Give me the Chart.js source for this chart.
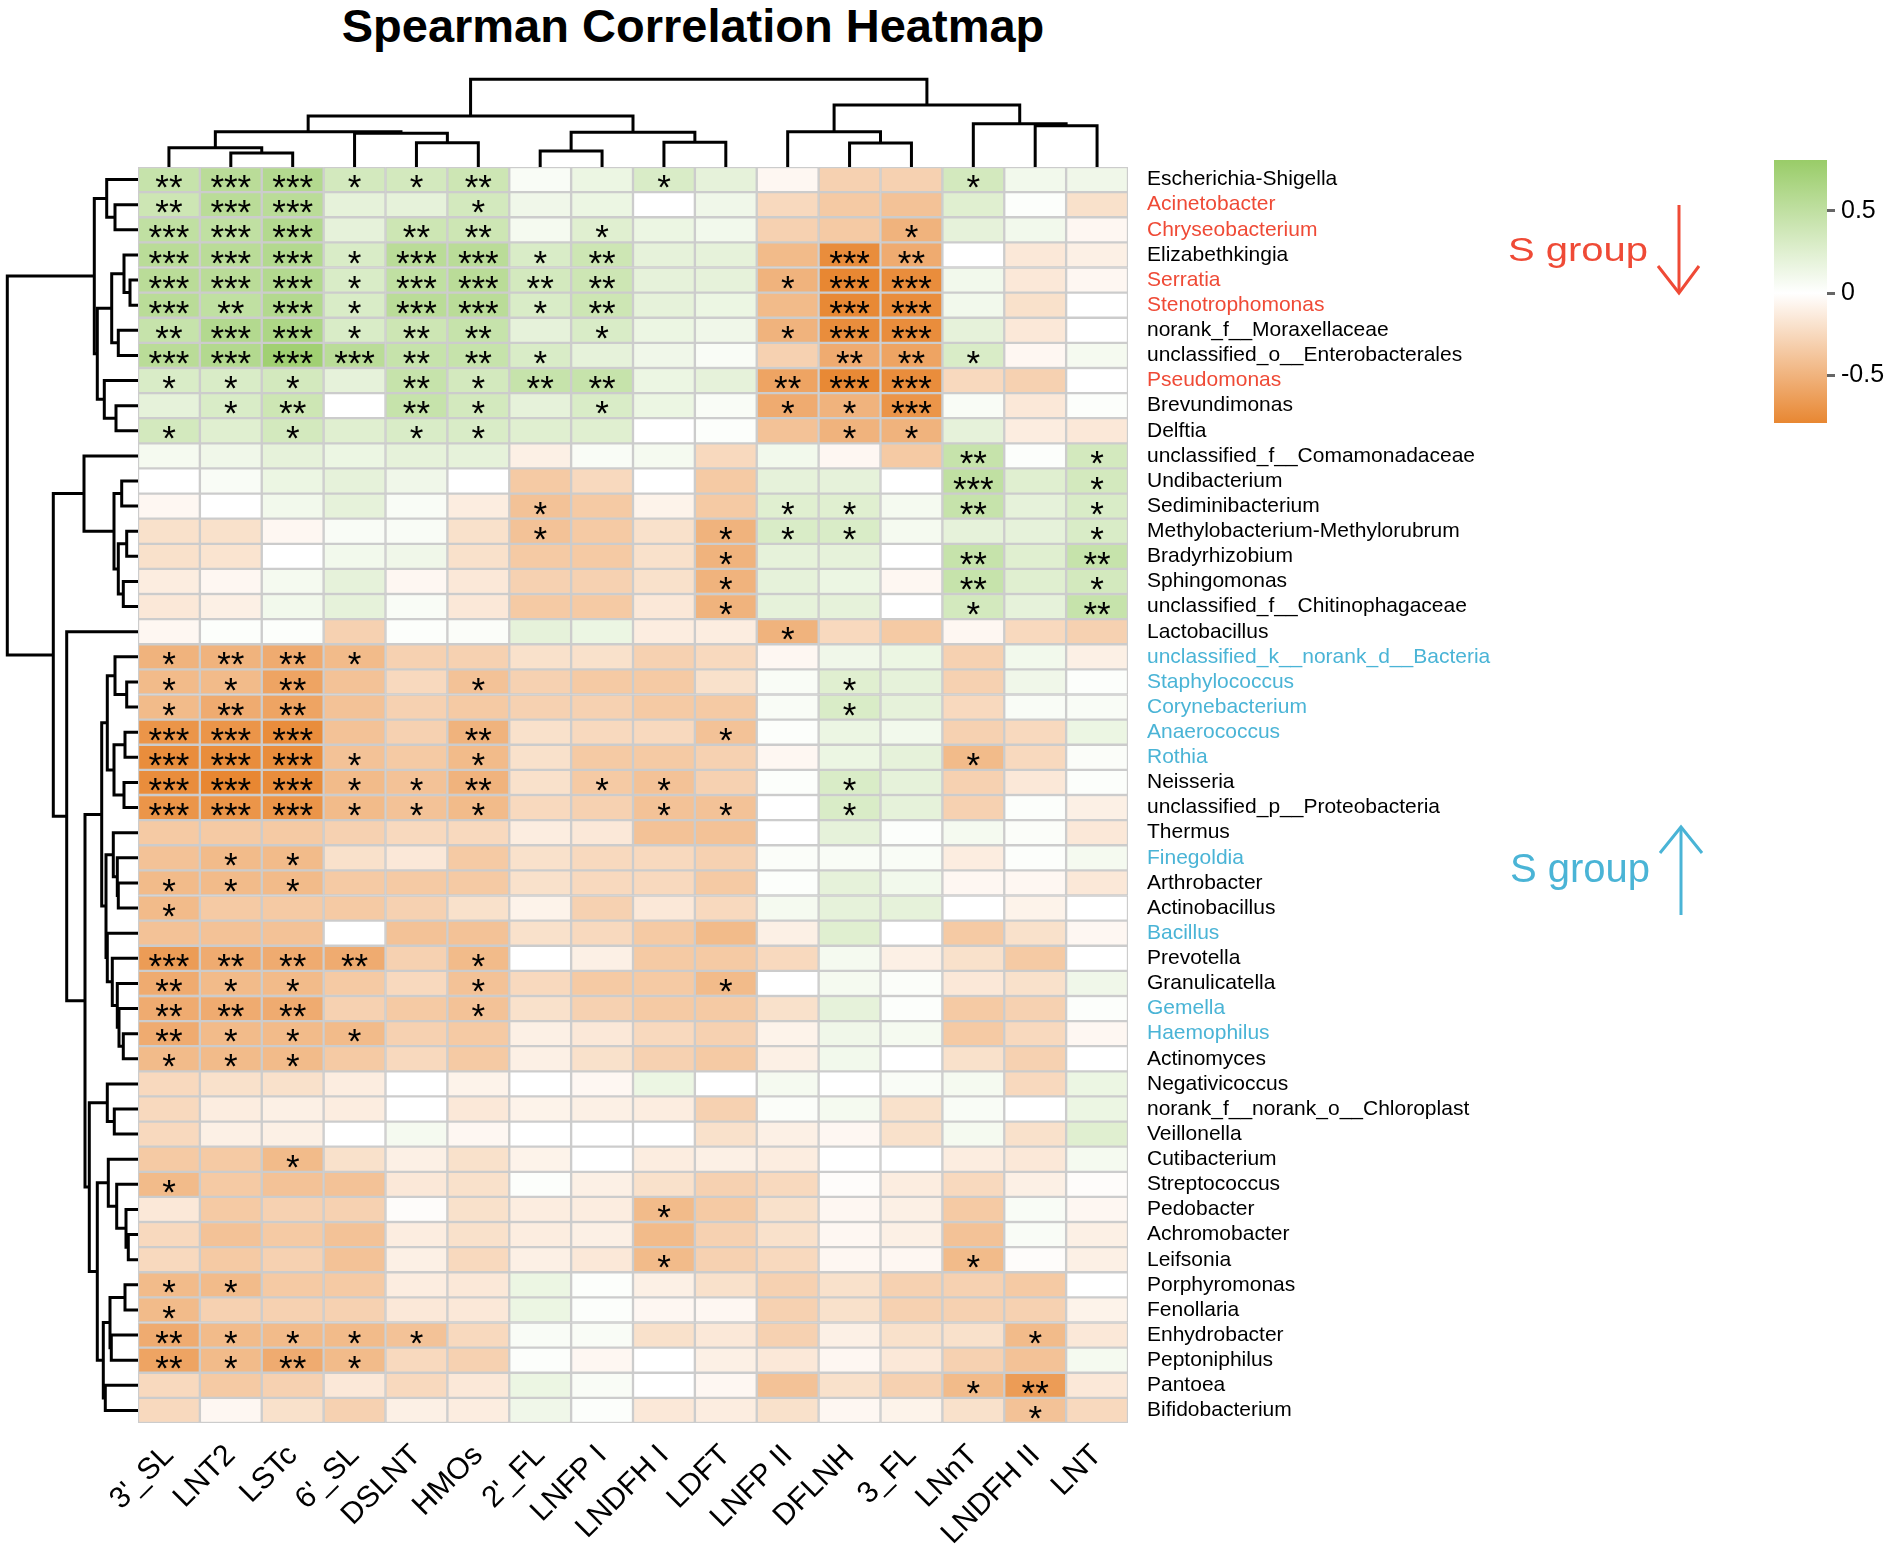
<!DOCTYPE html>
<html>
<head>
<meta charset="utf-8">
<script src="https://cdn.jsdelivr.net/npm/chart.js@4.4.0/dist/chart.umd.min.js"></script>
<style>
  body { margin: 0; background: #fff; }
  #wrap { position: relative; width: 1902px; height: 1552px; overflow: hidden; }
  #wrap canvas, #wrap svg { position: absolute; left: 0; top: 0; }
  #title { position: absolute; left: 0; width: 1386px; top: -2px; text-align: center;
           font: bold 47px "Liberation Sans", Arial, sans-serif; line-height: 56px; }
</style>
</head>
<body>
<div id="wrap">
  <div id="title">Spearman Correlation Heatmap</div>
  <canvas id="heat" width="1902" height="1552"></canvas>
  <canvas id="colTree" width="1902" height="1552"></canvas>
  <canvas id="rowTree" width="1902" height="1552"></canvas>
  <canvas id="scale" width="1902" height="1552"></canvas>
  <svg width="1902" height="1552" font-family="Liberation Sans, Arial, sans-serif">
    <g stroke="#ef4a36" stroke-width="3" fill="none">
      <line x1="1679" y1="205" x2="1679" y2="293"/>
      <polyline points="1658,266 1679,293 1699,266"/>
    </g>
    <text x="1508" y="261" font-size="40" fill="#ef4a36" transform="translate(0,261) scale(1,0.82) translate(0,-261)">S group</text>
    <g stroke="#4ab4d6" stroke-width="3" fill="none">
      <line x1="1681" y1="915" x2="1681" y2="827"/>
      <polyline points="1660,853 1681,827 1702,853"/>
    </g>
    <text x="1510" y="882" font-size="40" fill="#4ab4d6">S group</text>
  </svg>
</div>
<script>
// Column (HMO) and row (genus) names, in dendrogram order
const colNames = ["3'_SL", 'LNT2', 'LSTc', "6'_SL", 'DSLNT', 'HMOs', "2'_FL", 'LNFP I',
                  'LNDFH I', 'LDFT', 'LNFP II', 'DFLNH', '3_FL', 'LNnT', 'LNDFH II', 'LNT'];
const rowNames = ['Escherichia-Shigella', 'Acinetobacter', 'Chryseobacterium', 'Elizabethkingia',
  'Serratia', 'Stenotrophomonas', 'norank_f__Moraxellaceae', 'unclassified_o__Enterobacterales',
  'Pseudomonas', 'Brevundimonas', 'Delftia', 'unclassified_f__Comamonadaceae', 'Undibacterium',
  'Sediminibacterium', 'Methylobacterium-Methylorubrum', 'Bradyrhizobium', 'Sphingomonas',
  'unclassified_f__Chitinophagaceae', 'Lactobacillus', 'unclassified_k__norank_d__Bacteria',
  'Staphylococcus', 'Corynebacterium', 'Anaerococcus', 'Rothia', 'Neisseria',
  'unclassified_p__Proteobacteria', 'Thermus', 'Finegoldia', 'Arthrobacter', 'Actinobacillus',
  'Bacillus', 'Prevotella', 'Granulicatella', 'Gemella', 'Haemophilus', 'Actinomyces',
  'Negativicoccus', 'norank_f__norank_o__Chloroplast', 'Veillonella', 'Cutibacterium',
  'Streptococcus', 'Pedobacter', 'Achromobacter', 'Leifsonia', 'Porphyromonas', 'Fenollaria',
  'Enhydrobacter', 'Peptoniphilus', 'Pantoea', 'Bifidobacterium'];

// genera highlighted in the figure
const sGroupDown = ['Acinetobacter', 'Chryseobacterium', 'Serratia', 'Stenotrophomonas', 'Pseudomonas'];
const sGroupUp = ['unclassified_k__norank_d__Bacteria', 'Staphylococcus', 'Corynebacterium',
  'Anaerococcus', 'Rothia', 'Finegoldia', 'Bacillus', 'Gemella', 'Haemophilus'];

// Spearman rho, one row per genus
const corr = [
  [0.45, 0.55, 0.6, 0.35, 0.35, 0.4, 0.05, 0.15, 0.3, 0.2, -0.05, -0.3, -0.3, 0.35, 0.1, 0.12],
  [0.4, 0.55, 0.55, 0.2, 0.2, 0.35, 0.12, 0.15, 0.0, 0.12, -0.25, -0.35, -0.4, 0.25, 0.02, -0.2],
  [0.5, 0.5, 0.6, 0.2, 0.4, 0.4, 0.08, 0.25, 0.15, 0.1, -0.3, -0.35, -0.5, 0.2, 0.1, -0.05],
  [0.55, 0.55, 0.6, 0.3, 0.55, 0.55, 0.3, 0.4, 0.2, 0.2, -0.45, -0.75, -0.55, 0.0, -0.15, -0.1],
  [0.55, 0.55, 0.6, 0.3, 0.5, 0.55, 0.35, 0.4, 0.2, 0.2, -0.5, -0.79, -0.75, 0.1, -0.15, -0.05],
  [0.55, 0.5, 0.6, 0.3, 0.55, 0.55, 0.3, 0.4, 0.2, 0.15, -0.45, -0.78, -0.75, 0.1, -0.2, 0.0],
  [0.45, 0.6, 0.65, 0.3, 0.4, 0.45, 0.2, 0.3, 0.15, 0.12, -0.5, -0.75, -0.75, 0.2, -0.15, 0.0],
  [0.55, 0.6, 0.75, 0.55, 0.45, 0.45, 0.3, 0.2, 0.12, 0.05, -0.3, -0.55, -0.6, 0.3, -0.05, 0.08],
  [0.3, 0.3, 0.35, 0.2, 0.45, 0.35, 0.45, 0.45, 0.15, 0.2, -0.6, -0.78, -0.75, -0.25, -0.3, 0.0],
  [0.2, 0.3, 0.4, 0.0, 0.45, 0.35, 0.2, 0.3, 0.15, 0.05, -0.55, -0.5, -0.7, 0.05, -0.15, 0.02],
  [0.35, 0.25, 0.35, 0.25, 0.3, 0.3, 0.25, 0.25, 0.0, 0.02, -0.4, -0.5, -0.5, 0.2, -0.12, -0.15],
  [0.08, 0.12, 0.2, 0.15, 0.2, 0.2, -0.1, 0.05, 0.08, -0.25, 0.1, -0.05, -0.35, 0.45, 0.02, 0.35],
  [0.0, 0.05, 0.15, 0.2, 0.12, 0.0, -0.35, -0.25, 0.0, -0.35, 0.2, 0.2, 0.0, 0.5, 0.25, 0.35],
  [-0.05, 0.0, 0.1, 0.2, 0.05, -0.12, -0.4, -0.35, -0.08, -0.35, 0.25, 0.25, 0.08, 0.45, 0.2, 0.3],
  [-0.2, -0.2, -0.05, 0.05, 0.05, -0.2, -0.4, -0.35, -0.2, -0.5, 0.3, 0.3, 0.08, 0.2, 0.2, 0.3],
  [-0.2, -0.18, 0.0, 0.1, 0.12, -0.2, -0.35, -0.35, -0.2, -0.5, 0.2, 0.2, 0.0, 0.45, 0.25, 0.45],
  [-0.12, -0.05, 0.08, 0.2, -0.05, -0.15, -0.3, -0.3, -0.2, -0.5, 0.2, 0.15, -0.05, 0.45, 0.25, 0.35],
  [-0.15, -0.1, 0.1, 0.2, 0.05, -0.15, -0.35, -0.35, -0.15, -0.5, 0.2, 0.2, 0.0, 0.35, 0.2, 0.45],
  [-0.05, 0.02, 0.02, -0.3, 0.02, 0.03, 0.2, 0.15, -0.12, -0.12, -0.5, -0.25, -0.35, -0.05, -0.25, -0.3],
  [-0.5, -0.5, -0.55, -0.45, -0.3, -0.3, -0.2, -0.2, -0.3, -0.25, -0.05, 0.12, 0.15, -0.3, 0.1, -0.1],
  [-0.45, -0.45, -0.6, -0.4, -0.25, -0.4, -0.3, -0.35, -0.35, -0.2, 0.05, 0.25, 0.2, -0.3, 0.12, 0.02],
  [-0.45, -0.55, -0.6, -0.4, -0.3, -0.35, -0.3, -0.3, -0.35, -0.35, 0.05, 0.3, 0.2, -0.25, 0.05, 0.05],
  [-0.7, -0.7, -0.75, -0.4, -0.3, -0.5, -0.2, -0.25, -0.25, -0.4, 0.02, 0.15, 0.1, -0.3, -0.25, 0.15],
  [-0.75, -0.75, -0.75, -0.4, -0.35, -0.45, -0.2, -0.35, -0.35, -0.3, -0.05, 0.15, 0.2, -0.45, -0.25, 0.03],
  [-0.75, -0.79, -0.75, -0.45, -0.4, -0.5, -0.2, -0.35, -0.4, -0.3, 0.02, 0.3, 0.2, -0.3, -0.15, 0.02],
  [-0.7, -0.7, -0.7, -0.45, -0.4, -0.45, -0.25, -0.3, -0.4, -0.4, 0.0, 0.3, 0.2, -0.3, 0.02, -0.1],
  [-0.35, -0.35, -0.35, -0.3, -0.25, -0.25, -0.12, -0.15, -0.4, -0.4, 0.0, 0.2, 0.02, 0.08, 0.03, -0.15],
  [-0.4, -0.45, -0.45, -0.2, -0.15, -0.35, -0.2, -0.25, -0.25, -0.3, 0.03, 0.05, 0.05, -0.12, 0.02, 0.08],
  [-0.45, -0.45, -0.45, -0.35, -0.35, -0.35, -0.2, -0.25, -0.25, -0.35, 0.02, 0.2, 0.1, -0.05, -0.05, -0.15],
  [-0.45, -0.35, -0.35, -0.35, -0.3, -0.2, -0.08, -0.3, -0.15, -0.25, 0.08, 0.2, 0.2, 0.0, -0.08, 0.0],
  [-0.4, -0.4, -0.4, 0.0, -0.4, -0.4, -0.2, -0.25, -0.35, -0.45, -0.1, 0.25, 0.0, -0.35, -0.2, -0.05],
  [-0.65, -0.55, -0.55, -0.55, -0.3, -0.45, 0.0, -0.1, -0.35, -0.35, -0.25, 0.08, -0.1, -0.2, -0.35, 0.0],
  [-0.55, -0.45, -0.45, -0.35, -0.25, -0.4, -0.25, -0.35, -0.35, -0.45, 0.0, 0.08, 0.03, -0.15, -0.2, 0.12],
  [-0.55, -0.55, -0.55, -0.3, -0.35, -0.4, -0.2, -0.3, -0.35, -0.35, -0.2, 0.2, 0.02, -0.35, -0.3, 0.02],
  [-0.55, -0.45, -0.45, -0.45, -0.3, -0.35, -0.1, -0.15, -0.25, -0.3, -0.08, 0.12, 0.08, -0.35, -0.25, -0.05],
  [-0.45, -0.45, -0.45, -0.35, -0.25, -0.35, -0.1, -0.2, -0.3, -0.35, -0.1, 0.1, 0.0, -0.2, -0.3, 0.0],
  [-0.25, -0.2, -0.2, -0.12, 0.0, -0.08, 0.0, -0.05, 0.15, 0.0, 0.08, 0.0, 0.05, 0.08, -0.25, 0.15],
  [-0.25, -0.12, -0.1, -0.12, 0.0, -0.15, -0.08, -0.1, -0.12, -0.3, 0.03, 0.08, -0.2, 0.05, 0.0, 0.15],
  [-0.25, -0.1, -0.1, 0.0, 0.08, -0.05, 0.0, 0.0, 0.0, -0.2, -0.1, -0.05, -0.2, 0.08, -0.2, 0.25],
  [-0.35, -0.35, -0.45, -0.2, -0.1, -0.2, -0.08, 0.0, -0.12, -0.1, -0.12, 0.0, 0.0, -0.12, -0.15, 0.08],
  [-0.45, -0.35, -0.4, -0.4, -0.15, -0.2, 0.02, -0.1, -0.2, -0.3, -0.25, -0.02, -0.12, -0.25, -0.1, -0.02],
  [-0.15, -0.35, -0.3, -0.3, -0.02, -0.2, -0.12, -0.12, -0.45, -0.35, -0.2, -0.05, -0.1, -0.35, 0.05, -0.05],
  [-0.25, -0.4, -0.35, -0.4, -0.12, -0.2, -0.12, -0.1, -0.45, -0.3, -0.2, -0.05, -0.1, -0.4, 0.05, -0.1],
  [-0.25, -0.35, -0.3, -0.4, -0.1, -0.25, -0.1, -0.15, -0.45, -0.3, -0.25, -0.05, -0.05, -0.45, -0.02, -0.1],
  [-0.45, -0.45, -0.35, -0.35, -0.12, -0.15, 0.15, 0.02, -0.1, -0.2, -0.3, -0.2, -0.3, -0.3, -0.35, 0.0],
  [-0.45, -0.3, -0.3, -0.3, -0.15, -0.15, 0.15, 0.02, -0.05, -0.05, -0.3, -0.2, -0.3, -0.3, -0.3, -0.08],
  [-0.55, -0.45, -0.45, -0.45, -0.4, -0.25, 0.05, 0.05, -0.2, -0.15, -0.3, -0.1, -0.2, -0.2, -0.45, -0.15],
  [-0.6, -0.45, -0.55, -0.45, -0.25, -0.3, 0.02, -0.05, 0.0, -0.1, -0.15, -0.05, -0.15, -0.3, -0.4, 0.08],
  [-0.25, -0.35, -0.3, -0.15, -0.25, -0.15, 0.15, 0.05, 0.0, -0.05, -0.4, -0.2, -0.3, -0.45, -0.65, -0.15],
  [-0.25, -0.05, -0.2, -0.3, -0.1, -0.12, 0.12, 0.02, -0.15, -0.12, -0.2, -0.05, -0.08, -0.2, -0.4, -0.25]
];

// number of significance stars per cell (one digit per column)
const stars = [
  '2331120010000100', '2330010000000000', '3330220100001000', '3331331200032000',
  '3331332200133000', '3231331200033000', '2331220100133000', '3333221000022100',
  '1110212200233000', '0120210100113000', '1010110000011000', '0000000000000201',
  '0000000000000301', '0000001000110201', '0000001001110001', '0000000001000202',
  '0000000001000201', '0000000001000102', '0000000000100000', '1221000000000000',
  '1120010000010000', '1220000000010000', '3330020001000000', '3331010000000100',
  '3331120110010000', '3331110011010000', '0000000000000000', '0110000000000000',
  '1110000000000000', '1000000000000000', '0000000000000000', '3222010000000000',
  '2110010001000000', '2220010000000000', '2111000000000000', '1110000000000000',
  '0000000000000000', '0000000000000000', '0000000000000000', '0010000000000000',
  '1000000000000000', '0000000010000000', '0000000000000000', '0000000010000100',
  '1100000000000000', '1000000000000000', '2111100000000010', '2121000000000000',
  '0000000000000120', '0000000000000010'
];

// hclust-style merges: negative = leaf (-1 is first leaf), positive = earlier merge, then height
const colMerges = [
  [-2, -3, 0.14], [-1, 1, 0.193], [-5, -6, 0.243], [-4, 3, 0.337], [2, 4, 0.353],
  [-7, -8, 0.16], [-9, -10, 0.247], [6, 7, 0.347], [5, 8, 0.51], [-12, -13, 0.24],
  [-11, 10, 0.353], [-15, -16, 0.413], [-14, 12, 0.433], [11, 13, 0.62], [9, 14, 0.877]
];
const rowMerges = [
  [-5, -6, 0.08], [-4, 1, 0.14], [-7, -8, 0.197], [2, 3, 0.263], [-2, -3, 0.23],
  [-1, 5, 0.313], [-10, -11, 0.22], [-9, 7, 0.337], [4, 8, 0.407], [6, 9, 0.437],
  [-13, -14, 0.163], [-15, -16, 0.113], [-17, -18, 0.147], [12, 13, 0.197], [11, 14, 0.24],
  [-12, 15, 0.54], [-21, -22, 0.113], [-20, 17, 0.23], [-23, -24, 0.13], [-25, -26, 0.14],
  [19, 20, 0.24], [18, 21, 0.307], [-29, -30, 0.197], [-28, 23, 0.207], [-27, 24, 0.247],
  [-35, -36, 0.147], [-34, 26, 0.19], [-33, 27, 0.207], [-32, 28, 0.257], [-31, 29, 0.307],
  [25, 30, 0.32], [22, 31, 0.363], [-38, -39, 0.237], [-37, 33, 0.307], [-43, -44, 0.097],
  [-42, 35, 0.12], [-41, 36, 0.213], [-40, 37, 0.297], [-45, -46, 0.13], [-47, -48, 0.267],
  [39, 40, 0.28], [-49, -50, 0.327], [41, 42, 0.347], [38, 43, 0.407], [34, 44, 0.487],
  [32, 45, 0.53], [-19, 46, 0.713], [16, 47, 0.847], [10, 48, 1.307]
];

const scaleMin = -0.79, scaleMax = 0.81;
const ticksRho = [-0.5, 0, 0.5];

Chart.defaults.font.family = '"Liberation Sans", Arial, sans-serif';
Chart.defaults.color = '#000';
Chart.defaults.animation = false;
Chart.defaults.plugins.legend.display = false;
Chart.defaults.plugins.tooltip.enabled = false;

const green = [153, 204, 104], white = [255, 255, 255], orange = [232, 135, 50];
function mix(a, b, t) {
  return 'rgb(' + a.map((v, i) => Math.round(v + (b[i] - v) * t)).join(',') + ')';
}
function rhoColor(v) {
  return v >= 0 ? mix(white, green, Math.min(v / scaleMax, 1))
                : mix(white, orange, Math.min(v / scaleMin, 1));
}

// ---------- heatmap ----------
const starPlugin = {
  id: 'stars',
  afterDatasetsDraw(chart) {
    const ctx = chart.ctx, size = 35;
    ctx.save();
    ctx.font = size + 'px "Liberation Sans", Arial, sans-serif';
    ctx.fillStyle = '#000';
    ctx.textAlign = 'center';
    ctx.textBaseline = 'alphabetic';
    stars.forEach((s, r) => {
      const meta = chart.getDatasetMeta(r);
      s.split('').forEach((c, i) => {
        const n = +c;
        if (!n) return;
        const bar = meta.data[i];
        const cy = (bar.y + bar.base) / 2;
        ctx.fillText('*'.repeat(n), bar.x, cy + 0.56 * size);
      });
    });
    ctx.restore();
  }
};

new Chart(document.getElementById('heat'), {
  type: 'bar',
  data: {
    labels: colNames,
    datasets: corr.map((row, r) => ({
      data: row.map(() => [r, r + 1]),
      backgroundColor: row.map(rhoColor),
      borderColor: '#cccccc',
      borderWidth: 1.5,
      borderSkipped: false,
      barPercentage: 1,
      categoryPercentage: 1,
      grouped: false
    }))
  },
  options: {
    responsive: false,
    devicePixelRatio: 1,
    layout: { padding: { left: 138, top: 167, right: 0, bottom: 0 } },
    scales: {
      x: {
        grid: { display: false }, border: { display: false },
        ticks: { autoSkip: false, minRotation: 45, maxRotation: 45, padding: 7,
                 font: { size: 30 } },
        afterFit: (s) => { s.height = 129; }
      },
      y: { type: 'linear', min: 0, max: rowNames.length, reverse: true, display: false },
      rowLabels: {
        type: 'category', labels: rowNames, position: 'right', offset: true,
        grid: { display: false }, border: { display: false },
        ticks: {
          autoSkip: false, padding: 11, font: { size: 21 },
          color: (c) => {
            const n = rowNames[c.index];
            return sGroupDown.includes(n) ? '#ef4a36' : sGroupUp.includes(n) ? '#4ab4d6' : '#000';
          }
        },
        afterFit: (s) => { s.width = 774; }
      }
    }
  },
  plugins: [starPlugin]
});

// ---------- dendrograms ----------
function treeSegments(merges, leafPos) {
  const pos = [], hgt = [];
  const get = (id) => id < 0 ? [leafPos(-id - 1), 0] : [pos[id - 1], hgt[id - 1]];
  return merges.map(([a, b, h], k) => {
    const [pa, ha] = get(a), [pb, hb] = get(b);
    pos[k] = (pa + pb) / 2;
    hgt[k] = h;
    return [[pa, ha], [pa, h], [pb, h], [pb, hb]];
  });
}
const lineStyle = { showLine: true, borderColor: '#000', backgroundColor: '#000', borderWidth: 3,
                    pointRadius: 0, tension: 0, clip: false, borderJoinStyle: 'miter' };

new Chart(document.getElementById('colTree'), {
  type: 'scatter',
  data: {
    datasets: treeSegments(colMerges, (i) => i).map((seg) => ({
      ...lineStyle, data: seg.map(([p, h]) => ({ x: p, y: h }))
    }))
  },
  options: {
    responsive: false, devicePixelRatio: 1,
    layout: { padding: { left: 138, right: 774, top: 0, bottom: 1385 } },
    scales: {
      x: { type: 'linear', min: -0.5, max: colNames.length - 0.5, display: false },
      y: { type: 'linear', min: 0, max: 1.67, display: false }
    }
  }
});

new Chart(document.getElementById('rowTree'), {
  type: 'scatter',
  data: {
    datasets: treeSegments(rowMerges, (i) => i + 0.5).map((seg) => ({
      ...lineStyle, data: seg.map(([p, h]) => ({ x: h, y: p }))
    }))
  },
  options: {
    responsive: false, devicePixelRatio: 1,
    layout: { padding: { left: 0, right: 1764, top: 167, bottom: 129 } },
    scales: {
      x: { type: 'linear', min: 0, max: 1.38, reverse: true, display: false },
      y: { type: 'linear', min: 0, max: rowNames.length, reverse: true, display: false }
    }
  }
});

// ---------- colour key ----------
new Chart(document.getElementById('scale'), {
  type: 'bar',
  data: {
    labels: [''],
    datasets: [{
      data: [[scaleMin, scaleMax]],
      barPercentage: 1, categoryPercentage: 1, borderWidth: 0,
      backgroundColor: (c) => {
        const area = c.chart.chartArea;
        if (!area) return null;
        const g = c.chart.ctx.createLinearGradient(0, area.bottom, 0, area.top);
        g.addColorStop(0, rhoColor(scaleMin));
        g.addColorStop(-scaleMin / (scaleMax - scaleMin), rhoColor(0));
        g.addColorStop(1, rhoColor(scaleMax));
        return g;
      }
    }]
  },
  options: {
    responsive: false, devicePixelRatio: 1,
    layout: { padding: { left: 1774, top: 160, right: 0, bottom: 1129 } },
    scales: {
      x: { display: false },
      y: {
        position: 'right', min: scaleMin, max: scaleMax,
        afterBuildTicks: (s) => { s.ticks = ticksRho.map((v) => ({ value: v })); },
        grid: { drawOnChartArea: false, drawTicks: true, tickLength: 8, color: '#666', lineWidth: 3 },
        border: { display: false },
        ticks: { padding: 6, font: { size: 25 }, callback: (v) => String(v) },
        afterFit: (s) => { s.width = 75; }
      }
    }
  }
});
</script>
</body>
</html>
